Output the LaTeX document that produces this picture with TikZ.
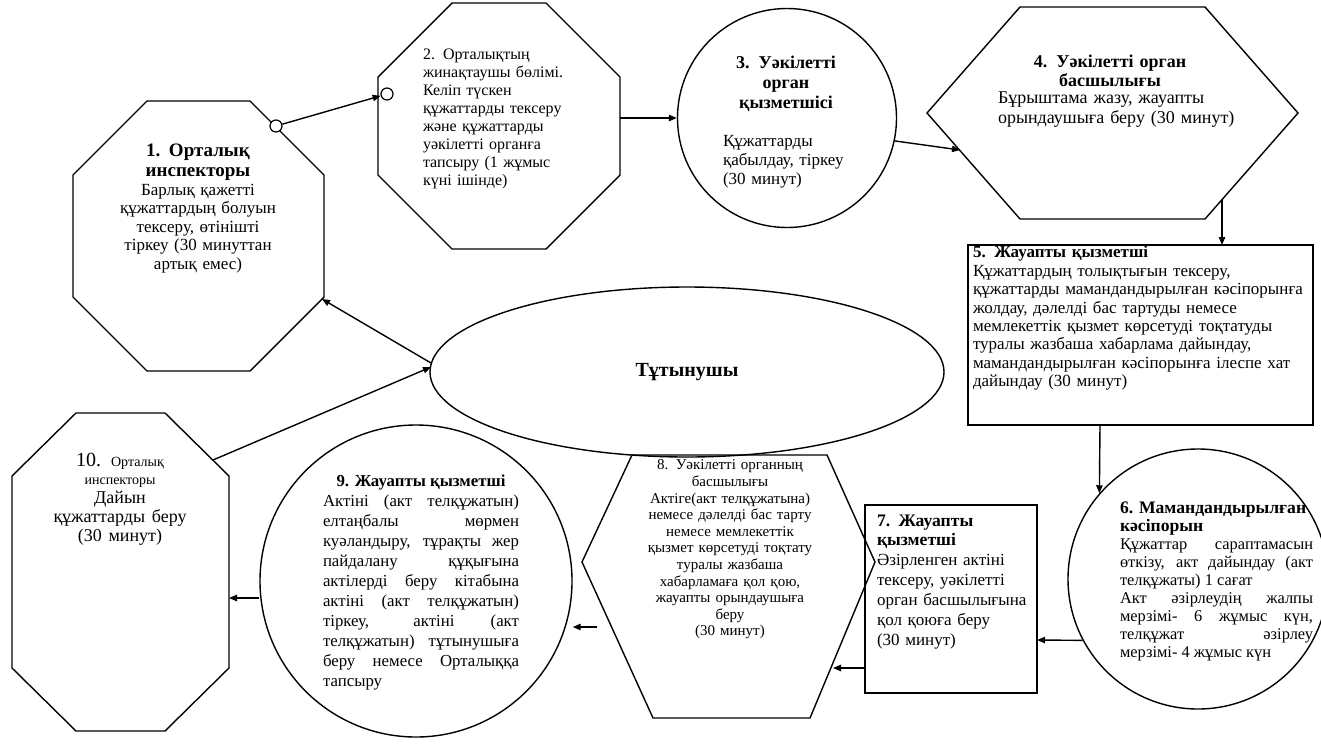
\documentclass[tikz,border=0pt]{standalone}
\usepackage{fontspec}
\setmainfont{Liberation Serif}
\usetikzlibrary{arrows.meta,shapes.geometric}
\hyphenpenalty=10000
\exhyphenpenalty=10000
\tolerance=10000
\hbadness=10000
\setlength\parindent{0pt}
\begin{document}
\begin{tikzpicture}[x=0.5pt,y=-0.5pt,
 shp/.style={draw=black,line width=0.7pt},
 conn/.style={draw=black,line width=0.7pt,-{Triangle[length=4pt,width=3.2pt]}},
 ring/.style={circle,draw=black,fill=white,line width=0.6pt,inner sep=0pt,minimum size=6pt},
 txt/.style={inner sep=0pt,outer sep=0pt,text=black},
]
\fill[white] (0,0) rectangle (1321,745);
\useasboundingbox (0,0) rectangle (1321,745);

% ---------- shapes ----------
% 1 octagon
\draw[shp] (147,101) -- (250,101) -- (324,175) -- (324,297) -- (250,371) -- (147,371) -- (73,297) -- (73,175) -- cycle;
% 2 octagon
\draw[shp] (452,3) -- (546,3) -- (620,77) -- (620,175) -- (546,249) -- (452,249) -- (378,175) -- (378,77) -- cycle;
% 3 circle
\node[shp,circle,minimum size=109.5pt,inner sep=0pt] (n3) at (787,118) {};
% 4 hexagon
\draw[shp] (927,113) -- (1020,7) -- (1205,7) -- (1298,113) -- (1205,219) -- (1020,219) -- cycle;
% 5 rectangle
\draw[shp] (968,245) rectangle (1313,425);
% 6 circle
\node[shp,circle,minimum size=130pt,inner sep=0pt] (n6) at (1198,579) {};
% 7 rectangle
\draw[shp] (865,505) rectangle (1037,693);
% 8 hexagon
\draw[shp] (582,562) -- (632,455) -- (827,455) -- (875,562) -- (810,718) -- (653,718) -- cycle;
% 9 circle
\node[shp,circle,minimum size=156pt,inner sep=0pt] (n9) at (416,581) {};
% 10 octagon
\draw[shp] (76,413) -- (165,413) -- (229,476) -- (229,668) -- (165,731) -- (76,731) -- (12,668) -- (12,476) -- cycle;
% ellipse
\node[shp,ellipse,minimum width=257pt,minimum height=85pt,inner sep=0pt,
      font=\bfseries\fontsize{10}{12}\selectfont] (nE) at (687,372) {Тұтынушы};

% ---------- texts ----------
\node[txt,anchor=north,text width=90pt,align=center,font=\fontsize{8.5}{9.3}\selectfont] (t1) at (198,144)
 {{\bfseries\fontsize{9.5}{10}\selectfont 1. Орталық\\инспекторы\par}Барлық қажетті\\құжаттардың болуын\\тексеру, өтінішті\\тіркеу (30 минуттан\\артық емес)};

\node[txt,anchor=north west,text width=90pt,align=left,font=\fontsize{8}{9}\selectfont] (t2) at (423,49)
 {2. Орталықтың\\жинақтаушы бөлімі.\\Келіп түскен\\құжаттарды тексеру\\және құжаттарды\\уәкілетті органға\\тапсыру (1 жұмыс\\күні ішінде)};

\node[txt,anchor=north,text width=70pt,align=center,font=\bfseries\fontsize{9}{10}\selectfont] (t3a) at (786,56)
 {3. Уәкілетті\\орган\\қызметшісі};
\node[txt,anchor=north west,text width=80pt,align=left,font=\fontsize{8.5}{9.5}\selectfont] (t3b) at (723,135)
 {Құжаттарды\\қабылдау, тіркеу\\(30 минут)};

\node[txt,anchor=north,text width=120pt,align=center,font=\bfseries\fontsize{9}{9.3}\selectfont] (t4a) at (1110,55)
 {4. Уәкілетті орган\\басшылығы};
\node[txt,anchor=north west,text width=130pt,align=left,font=\fontsize{9}{10}\selectfont] (t4b) at (998,92)
 {Бұрыштама жазу, жауапты\\орындаушыға беру (30 минут)};

\node[txt,anchor=north west,text width=170pt,align=left,font=\fontsize{8.5}{9.2}\selectfont] (t5) at (973,246)
 {{\bfseries 5. Жауапты қызметші}\\Құжаттардың толықтығын тексеру,\\құжаттарды мамандандырылған кәсіпорынға\\жолдау, дәлелді бас тартуды немесе\\мемлекеттік қызмет көрсетуді тоқтатуды\\туралы жазбаша хабарлама дайындау,\\мамандандырылған кәсіпорынға ілеспе хат\\дайындау (30 минут)};

\node[txt,anchor=north west,text width=96.5pt,align=justify,font=\fontsize{8.2}{9}\selectfont] (t6) at (1120,502)
 {{\bfseries\fontsize{8.8}{7.4}\selectfont 6. Мамандандырылған\\кәсіпорын\par}Құжаттар сараптамасын\linebreak өткізу, акт дайындау (акт\linebreak телқұжаты) 1 сағат\par Акт әзірлеудің жалпы\linebreak мерзімі- 6 жұмыс күн,\linebreak телқұжат әзірлеу\linebreak мерзімі- 4 жұмыс күн};

\node[txt,anchor=north west,text width=80pt,align=left,font=\fontsize{8.5}{10}\selectfont] (t7) at (877,515)
 {{\bfseries\fontsize{8.8}{9.5}\selectfont 7. Жауапты\\қызметші\par}Әзірленген актіні\\тексеру, уәкілетті\\орган басшылығына\\қол қоюға беру\\(30 минут)};

\node[txt,anchor=north,text width=120pt,align=center,font=\fontsize{7.5}{8.3}\selectfont] (t8) at (730,460)
 {8. Уәкілетті органның\\басшылығы\\Актіге(акт телқұжатына)\\немесе дәлелді бас тарту\\немесе мемлекеттік\\қызмет көрсетуді тоқтату\\туралы жазбаша\\хабарламаға қол қою,\\жауапты орындаушыға\\беру\\(30 минут)};

\node[txt,anchor=north west,text width=98pt,align=justify,font=\fontsize{8.4}{10}\selectfont] (t9) at (323,475)
 {{\centering\bfseries 9. Жауапты қызметші\par}Актіні (акт телқұжатын)\linebreak елтаңбалы мөрмен\linebreak куәландыру, тұрақты жер\linebreak пайдалану құқығына\linebreak актілерді беру кітабына\linebreak актіні (акт телқұжатын)\linebreak тіркеу, актіні (акт\linebreak телқұжатын) тұтынушыға\linebreak беру немесе Орталыққа\linebreak тапсыру};

\node[txt,anchor=north,text width=100pt,align=center] (t10) at (120,453)
 {{\fontsize{10}{10}\selectfont 10. \fontsize{7}{9}\selectfont Орталық\\инспекторы\par}{\fontsize{9}{9.5}\selectfont Дайын\\құжаттарды беру\\(30 минут)\par}};

% ---------- connectors ----------
\node[ring] (r1) at (276,126) {};
\node[ring] (r2) at (387,94) {};
\draw[conn] (r1) -- (r2);

\coordinate (p23) at (620,118);
\draw[conn] (p23) -- (n3.west);

\coordinate (p34) at (960,150);
\draw[conn] (n3.-12) -- (p34);

\coordinate (p45s) at (1222,200);
\coordinate (p45e) at (1222,245);
\draw[conn] (p45s) -- (p45e);

\coordinate (p56) at (1100,425);
\draw[conn] (p56) -- (n6.139);

\coordinate (p67) at (1037,640);
\draw[conn] (n6.208) -- (p67);

\coordinate (p78s) at (865,668);
\coordinate (p78e) at (833,668);
\draw[conn] (p78s) -- (p78e);

\coordinate (p89) at (597,627);
\draw[conn] (p89) -- (n9.east |- p89);

\coordinate (p910) at (229,598);
\draw[conn] (n9.west |- p910) -- (p910);

\coordinate (p10E) at (213,460);
\coordinate (pE10) at (431,367);
\draw[conn] (p10E) -- (pE10);

\coordinate (pE1) at (431,363);
\coordinate (p1E) at (322,299);
\draw[conn] (pE1) -- (p1E);
\end{tikzpicture}
\end{document}
